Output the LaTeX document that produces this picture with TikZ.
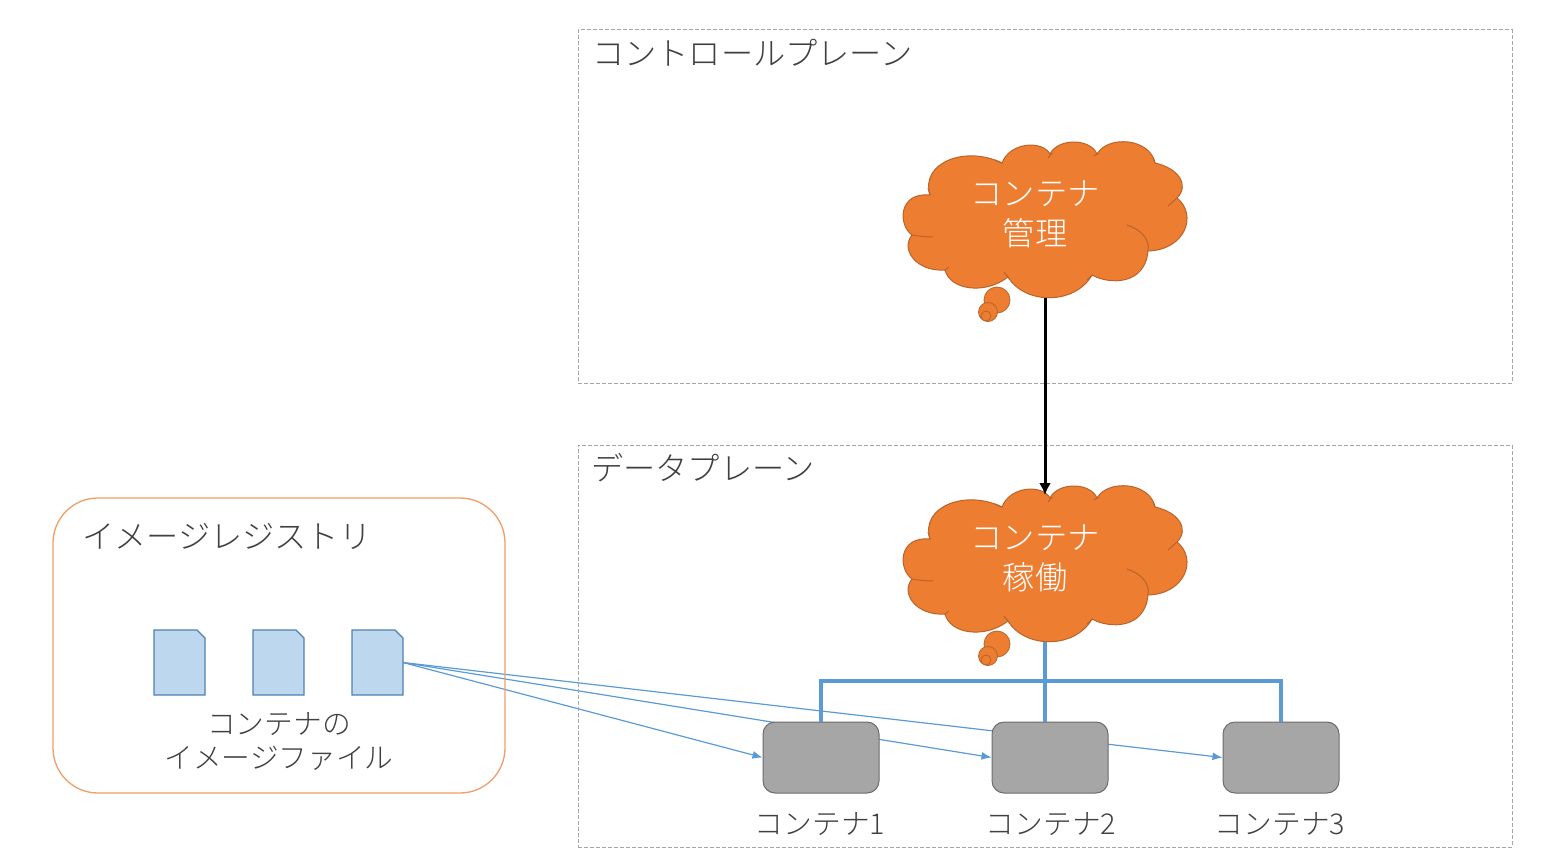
\documentclass[tikz,border=0pt]{standalone}
\usepackage{fontspec}
\setmainfont[UprightFont=* Light]{Noto Sans CJK JP}
\usetikzlibrary{arrows.meta,backgrounds}
\definecolor{cloudfill}{HTML}{ED7D31}
\definecolor{cloudline}{HTML}{B9642A}
\definecolor{linkblue}{HTML}{5B9BD5}
\definecolor{filefill}{HTML}{BDD7EE}
\definecolor{fileline}{HTML}{4F81AE}
\definecolor{textgray}{HTML}{404040}
\tikzset{
  planebox/.style={draw=gray!70, dash pattern=on 4pt off 2pt, line width=1pt},
  registrybox/.style={draw=cloudfill!75, line width=1.3pt, rounded corners=45pt, minimum width=452pt, minimum height=295pt},
  filebox/.style={minimum width=51pt, minimum height=65pt, inner sep=0pt, outer sep=0pt},
  fileshape/.style={draw=fileline, fill=filefill, line width=1.2pt},
  containerbox/.style={draw=gray!85!black, fill=gray!70, line width=1pt, rounded corners=12pt, minimum width=116pt, minimum height=71pt},
  bigtext/.style={text=textgray, font=\fontsize{32.2}{34}\selectfont, inner sep=0pt},
  smalltext/.style={text=textgray, font=\fontsize{28.7}{34}\selectfont, align=center, inner sep=0pt},
  cloudtext/.style={text=white, font=\fontsize{32.3}{40}\selectfont, align=center, inner sep=0pt},
  thinkcloud/.pic={
    \draw[draw=cloudline, fill=cloudfill, line width=1pt] (930,195)
      .. controls (920,163) and (965,145) .. (1002,163)
      .. controls (1010,142) and (1042,140) .. (1050,154)
      .. controls (1058,138) and (1090,138) .. (1097,154)
      .. controls (1108,135) and (1150,138) .. (1155,163)
      .. controls (1178,168) and (1190,185) .. (1177,198)
      .. controls (1198,215) and (1185,250) .. (1148,251)
      .. controls (1145,285) and (1110,285) .. (1092,275)
      .. controls (1075,305) and (1025,305) .. (1008,277)
      .. controls (985,295) and (950,290) .. (945,270)
      .. controls (917,272) and (900,250) .. (912,235)
      .. controls (898,225) and (898,192) .. (930,195) -- cycle;
    % creases inside the outline
    \draw[draw=cloudline, line width=1pt]
      (912,235) .. controls (918,236) and (926,237) .. (933,237)
      (945,270) -- (949,267)
      (1008,277) -- (1004,272)
      (1092,275) -- (1087,280)
      (1127,225) .. controls (1142,230) and (1150,240) .. (1148,251)
      (1168,206) -- (1177,198)
      (1155,163) -- (1153,158)
      (1094,156) -- (1099,153)
      (1048,158) -- (1052,153)
      (1002,163) -- (995,160)
      (930,195) -- (928,188);
    \draw[draw=cloudline, fill=cloudfill, line width=.8pt] (997,300) circle (13);
    \draw[draw=cloudline, fill=cloudfill, line width=.8pt] (988,312) circle (9.5);
    \draw[draw=cloudline, fill=cloudfill, line width=.8pt] (986,316) circle (5);
    \coordinate (-top) at (1045,151);
    \coordinate (-bot) at (1045,298);
  }
}
\begin{document}
\begin{tikzpicture}[x=1pt,y=-1pt]
  \useasboundingbox (0,0) rectangle (1542,861);

  % planes
  \node[planebox, minimum width=934pt, minimum height=353pt] (ctrlplane) at (1045,206.5) {};
  \node[planebox, minimum width=934pt, minimum height=402pt] (dataplane) at (1045,646) {};
  \node[bigtext, anchor=west] (ctrltitle) at (592,53) {コントロールプレーン};
  \node[bigtext, anchor=west] (datatitle) at (591,468) {データプレーン};

  % registry
  \node[registrybox] (registry) at (279,645.5) {};
  \node[bigtext, anchor=west] (regtitle) at (82,536) {イメージレジストリ};
  \node[filebox] (file1) at (179.5,662.5) {};
  \node[filebox] (file2) at (278.5,662.5) {};
  \node[filebox] (file3) at (377.5,662.5) {};
  \foreach \name in {file1,file2,file3}
    \draw[fileshape] (\name.south west) -- (\name.north west)
      -- ([xshift=-8pt]\name.north east) -- ([yshift=-8pt]\name.north east)
      -- (\name.south east) -- cycle;
  \node[smalltext] (filetext) at (279,741.5) {コンテナの\\イメージファイル};

  % clouds
  \pic (mgmt) {thinkcloud};
  \pic at (0,344) (run) {thinkcloud};
  \node[cloudtext] (mgmttext) at (1035,214.5) {コンテナ\\管理};
  \node[cloudtext] (runtext) at (1035,558.5) {コンテナ\\稼働};
  \draw[-{Latex[length=12pt,width=12pt]}, line width=3pt] (mgmt-bot) -- (run-top);

  % containers
  \node[containerbox] (cont1) at (821,757.5) {};
  \node[containerbox] (cont2) at (1050,757.5) {};
  \node[containerbox] (cont3) at (1281,757.5) {};
  \node[smalltext] (label1) at (820,824) {コンテナ1};
  \node[smalltext] (label2) at (1051,824) {コンテナ2};
  \node[smalltext] (label3) at (1280,824) {コンテナ3};

  \coordinate (bus) at (1045,681);
  \begin{scope}[on background layer]
    \foreach \target in {cont1,cont2,cont3}
      \draw[-{Latex[length=10pt,width=8pt]}, linkblue, line width=1.2pt] (file3.east) -- (\target.west);
  \end{scope}
  \draw[linkblue, line width=4pt] (run-bot) -- (run-bot |- cont2.north);
  \draw[linkblue, line width=4pt] (cont1.north) |- (bus) -| (cont3.north);
\end{tikzpicture}
\end{document}
